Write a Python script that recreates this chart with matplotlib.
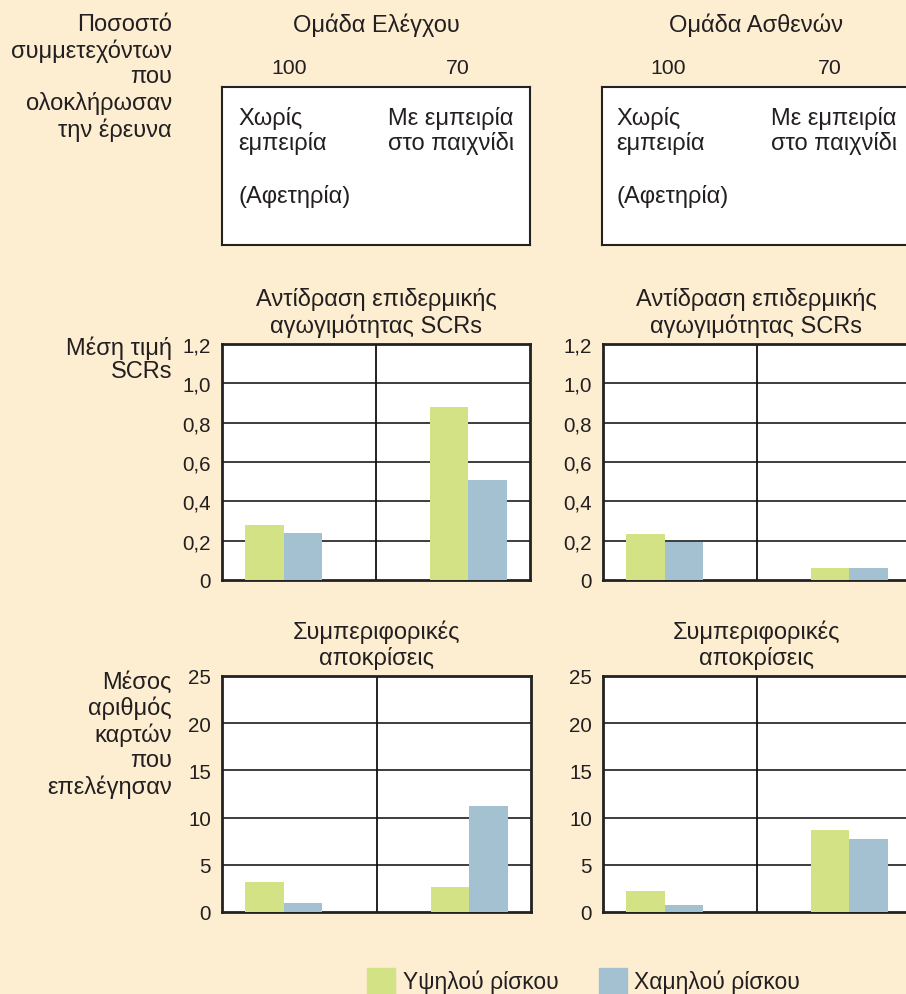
import matplotlib
matplotlib.use("Agg")
import matplotlib.pyplot as plt
import numpy as np

plt.rcParams['font.family'] = ['Liberation Sans', 'DejaVu Sans']

# ---- data ----
conditions = ["Χωρίς εμπειρία", "Με εμπειρία στο παιχνίδι"]
series_names = ["Υψηλού ρίσκου", "Χαμηλού ρίσκου"]
completion = ["100", "70"]

scr_control_high = [0.28, 0.88]
scr_control_low = [0.24, 0.51]
scr_patient_high = [0.235, 0.06]
scr_patient_low = [0.195, 0.06]

beh_control_high = [3.2, 2.7]
beh_control_low = [0.95, 11.2]
beh_patient_high = [2.2, 8.7]
beh_patient_low = [0.72, 7.7]

scr_ticks = [0, 0.2, 0.4, 0.6, 0.8, 1.0, 1.2]
scr_ticklabels = ["0", "0,2", "0,4", "0,6", "0,8", "1,0", "1,2"]
beh_ticks = [0, 5, 10, 15, 20, 25]
beh_ticklabels = ["0", "5", "10", "15", "20", "25"]

# ---- style ----
BG = "#FDEED2"
GREEN = "#D4E286"
BLUE = "#A3C1D1"
TXT = "#231F20"
GRID = "#2E2E2E"
FS = 17
FS_NUM = 14.8

W, H = 906, 995
fig = plt.figure(figsize=(W / 100, H / 100), dpi=100, facecolor=BG)


def rect(x0, y0, x1, y1):
    return [x0 / W, 1 - y1 / H, (x1 - x0) / W, (y1 - y0) / H]


def ftext(x, y, s, **kw):
    kw.setdefault("fontsize", FS)
    kw.setdefault("color", TXT)
    fig.text(x / W, 1 - y / H, s, **kw)


def bar_panel(pos, high, low, ticks, labels, top):
    ax = fig.add_axes(pos)
    ax.set_facecolor("white")
    centers = np.array([0.4, 1.6])
    bw = 0.25
    ax.bar(centers - bw / 2, high, width=bw, color=GREEN, zorder=3)
    ax.bar(centers + bw / 2, low, width=bw, color=BLUE, zorder=3)
    ax.set_xlim(0, 2)
    ax.set_ylim(0, top)
    ax.set_xticks([])
    ax.set_yticks(ticks)
    ax.set_yticklabels(labels, fontsize=FS_NUM, color=TXT)
    ax.tick_params(axis="y", length=0, pad=8)
    for t in ticks[1:-1]:
        ax.axhline(t, color=GRID, lw=1.3, zorder=2)
    ax.axvline(1, color="#111111", lw=1.3, zorder=2)
    for s in ax.spines.values():
        s.set_color("#222222")
        s.set_linewidth(2)
    return ax


bar_panel(rect(222, 345, 530, 581), scr_control_high, scr_control_low, scr_ticks, scr_ticklabels, 1.2)
bar_panel(rect(603, 345, 911, 581), scr_patient_high, scr_patient_low, scr_ticks, scr_ticklabels, 1.2)
bar_panel(rect(222, 677, 531, 913), beh_control_high, beh_control_low, beh_ticks, beh_ticklabels, 25)
bar_panel(rect(603, 677, 911, 913), beh_patient_high, beh_patient_low, beh_ticks, beh_ticklabels, 25)

# ---- condition boxes ----
for x0 in (222, 602):
    bx = fig.add_axes(rect(x0, 88, x0 + 308, 246))
    bx.set_facecolor("white")
    bx.set_xticks([])
    bx.set_yticks([])
    for s in bx.spines.values():
        s.set_color("#222222")
        s.set_linewidth(1.5)

# ---- header texts ----
groups = [("Ομάδα Ελέγχου", 376, 289, 458, 238, 388), ("Ομάδα Ασθενών", 756, 668, 830, 616, 771)]
for name, cx, x100, x70, xa, xb in groups:
    ftext(cx, 25, name, ha="center", va="center")
    ftext(x100, 68, completion[0], ha="center", va="center", fontsize=FS_NUM + 0.5)
    ftext(x70, 68, completion[1], ha="center", va="center", fontsize=FS_NUM + 0.5)
    ftext(xa, 131, "Χωρίς\nεμπειρία", ha="left", va="center", linespacing=1.15)
    ftext(xb, 131, "Με εμπειρία\nστο παιχνίδι", ha="left", va="center", linespacing=1.15)
    ftext(xa, 197, "(Αφετηρία)", ha="left", va="center")
    ftext(cx, 313, "Αντίδραση επιδερμικής\nαγωγιμότητας SCRs", ha="center", va="center", linespacing=1.15)
    ftext(cx, 645, "Συμπεριφορικές\nαποκρίσεις", ha="center", va="center", linespacing=1.15)

ftext(172, 78, "Ποσοστό\nσυμμετεχόντων\nπου\nολοκλήρωσαν\nτην έρευνα", ha="right", va="center", linespacing=1.2)
ftext(172, 360, "Μέση τιμή\nSCRs", ha="right", va="center", linespacing=1.05)
ftext(172, 735, "Μέσος\nαριθμός\nκαρτών\nπου\nεπελέγησαν", ha="right", va="center", linespacing=1.18)

# ---- legend ----
lx = fig.add_axes([0, 0, 1, 1], facecolor="none")
lx.set_xlim(0, W)
lx.set_ylim(H, 0)
lx.axis("off")
lx.add_patch(plt.Rectangle((367, 969), 28, 30, color=GREEN))
lx.add_patch(plt.Rectangle((599, 969), 28, 30, color=BLUE))
ftext(403, 982, series_names[0], ha="left", va="center", fontsize=16.5)
ftext(634, 982, series_names[1], ha="left", va="center", fontsize=16.5)

fig.savefig("out.png", dpi=100, facecolor=BG)
